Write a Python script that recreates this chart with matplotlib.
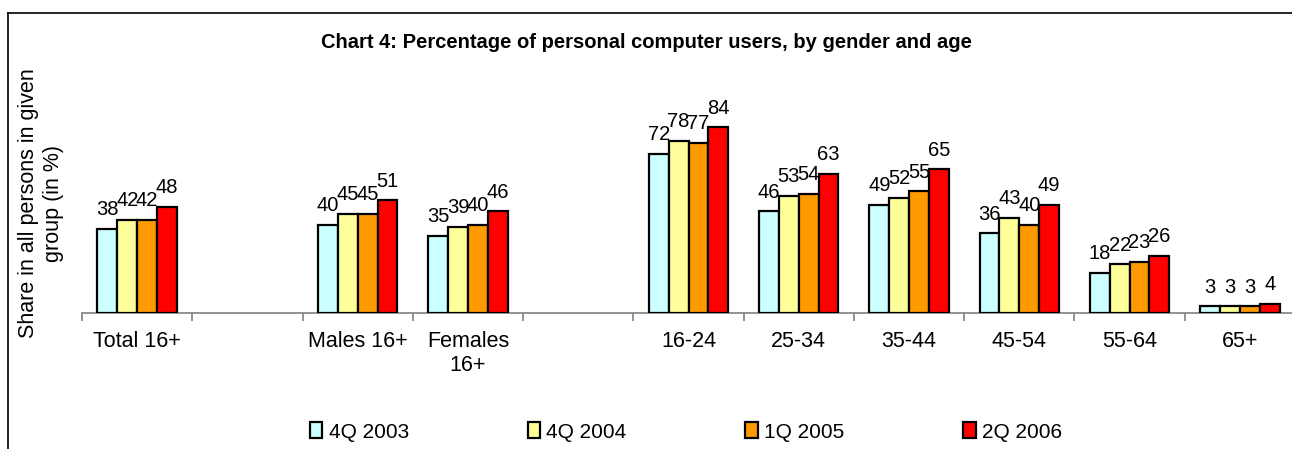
import matplotlib
matplotlib.use('Agg')
import matplotlib.pyplot as plt
import numpy as np
from matplotlib.lines import Line2D

plt.rcParams['font.family'] = ['Liberation Sans', 'DejaVu Sans']

categories = ['Total 16+', '', 'Males 16+', 'Females\n16+', '',
              '16-24', '25-34', '35-44', '45-54', '55-64', '65+']
series_names = ['4Q 2003', '4Q 2004', '1Q 2005', '2Q 2006']
q4_2003 = [38, None, 40, 35, None, 72, 46, 49, 36, 18, 3]
q4_2004 = [42, None, 45, 39, None, 78, 53, 52, 43, 22, 3]
q1_2005 = [42, None, 45, 40, None, 77, 54, 55, 40, 23, 3]
q2_2006 = [48, None, 51, 46, None, 84, 63, 65, 49, 26, 4]
colors = ['#CCFFFF', '#FFFF99', '#FF9900', '#FF0000']

W, H = 1292, 449
fig = plt.figure(figsize=(W / 100, H / 100), dpi=100)
ax = fig.add_axes([82 / W, 136 / H, 1213 / W, 221 / H])

x = np.arange(len(categories))
bar_width = 0.18
all_series = [q4_2003, q4_2004, q1_2005, q2_2006]
for i, (vals, name, c) in enumerate(zip(all_series, series_names, colors)):
    xs = [xi + (i - 1.5) * bar_width for xi, v in zip(x, vals) if v is not None]
    vs = [v for v in vals if v is not None]
    bars = ax.bar(xs, vs, width=bar_width, color=c, edgecolor='black',
                  linewidth=1.6, label=name, zorder=3)
    for b, v in zip(bars, vs):
        ax.annotate(str(v), (b.get_x() + b.get_width() / 2, v),
                    xytext=(0, 7), textcoords='offset points',
                    ha='center', va='bottom', fontsize=14.5)

ax.set_xlim(-0.5, len(categories) - 0.5)
ax.set_ylim(0, 100)
for s in ['top', 'right', 'left']:
    ax.spines[s].set_visible(False)
ax.spines['bottom'].set_color('#808080')
ax.spines['bottom'].set_linewidth(1.2)
ax.set_yticks([])

ax.set_xticks(np.arange(len(categories) + 1) - 0.5)
ax.set_xticklabels([])
ax.tick_params(axis='x', which='major', length=6, color='#808080', width=1.2)
ax.set_xticks(x, minor=True)
ax.set_xticklabels(categories, minor=True, fontsize=15.5)
ax.tick_params(axis='x', which='minor', length=0, pad=13)

fig.text(646 / W, 1 - 42 / H, 'Chart 4: Percentage of personal computer users, by gender and age',
         ha='center', va='center', fontsize=14.5, fontweight='bold')
fig.text(41 / W, 1 - 203 / H, 'Share in all persons in given\ngroup (in %)',
         rotation=90, ha='center', va='center', fontsize=15.5, multialignment='center')

fig.legend(loc='center', bbox_to_anchor=(686 / W, 1 - 432 / H), ncol=4, frameon=False,
           fontsize=15, handlelength=0.6, handleheight=0.8, handletextpad=0.3,
           columnspacing=5.7)

fig.add_artist(Line2D([8 / W, 8 / W], [0, 1 - 13 / H], color='black', lw=1.2))
fig.add_artist(Line2D([8 / W, 1], [1 - 13 / H, 1 - 13 / H], color='black', lw=1.2))

fig.savefig('out.png', dpi=100)
